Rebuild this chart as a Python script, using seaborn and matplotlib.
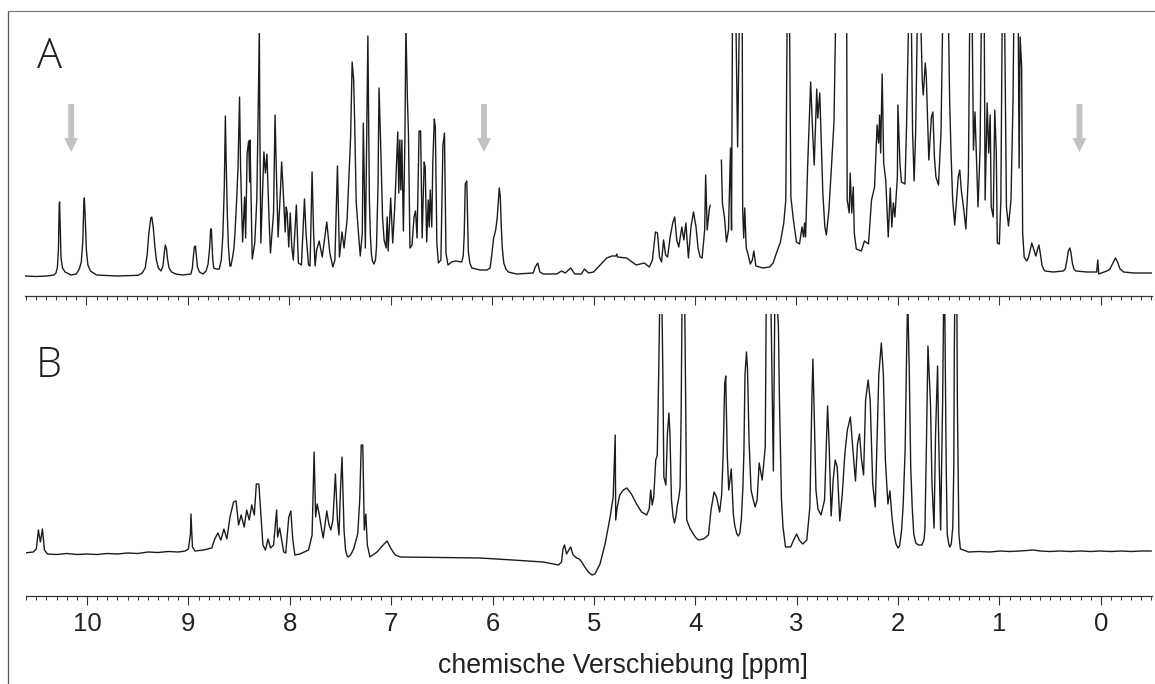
import matplotlib
matplotlib.use("Agg")
import matplotlib.pyplot as plt
from matplotlib.lines import Line2D
from matplotlib.ticker import MultipleLocator, NullFormatter
import seaborn as sns

sns.set_theme(style="white")
plt.rcParams["font.family"] = ["Liberation Sans", "DejaVu Sans"]

# Spektrum A, Teil vor der Luecke (ppm / Intensitaet)
ppm_a1 = [
    10.61, 10.5, 10.39, 10.32, 10.30, 10.285, 10.275, 10.268, 10.264, 10.258, 10.25, 10.235, 10.21, 10.15,
    10.10, 10.07, 10.05, 10.035, 10.025, 10.02, 10.012, 10.0, 9.985, 9.96, 9.90,
    9.7, 9.49, 9.45, 9.42, 9.40, 9.385, 9.365, 9.355, 9.34, 9.325, 9.31, 9.29, 9.265,
    9.245, 9.235, 9.222, 9.21, 9.20, 9.185, 9.16, 9.12, 9.05, 8.97,
    8.955, 8.945, 8.935, 8.925, 8.915, 8.905, 8.885, 8.85, 8.82, 8.80,
    8.785, 8.775, 8.768, 8.755, 8.745, 8.72, 8.69, 8.67, 8.655, 8.64,
    8.63, 8.622, 8.615, 8.61, 8.60, 8.585, 8.575, 8.56, 8.545, 8.535,
    8.52, 8.505, 8.49, 8.48, 8.46, 8.44, 8.43, 8.415,
    8.40, 8.39, 8.387, 8.365, 8.34, 8.32, 8.305, 8.295, 8.29, 8.28,
    8.25, 8.235, 8.22, 8.20, 8.185, 8.155, 8.14, 8.125, 8.11, 8.085,
    8.075, 8.06, 8.04, 8.03, 8.02, 8.005, 7.99, 7.975, 7.96, 7.93,
    7.91, 7.88, 7.85, 7.835, 7.81, 7.795, 7.775, 7.76, 7.745, 7.73,
    7.705, 7.675, 7.63, 7.60, 7.57, 7.55, 7.525, 7.505, 7.48, 7.46,
    7.43, 7.395, 7.38, 7.365, 7.355, 7.34, 7.32, 7.30, 7.28, 7.27,
    7.25, 7.24, 7.225, 7.21, 7.20, 7.19, 7.18, 7.165, 7.15, 7.14, 7.125, 7.115, 7.10, 7.08,
    7.065, 7.045, 7.035, 7.025, 7.0, 6.98, 6.96, 6.93, 6.92, 6.91,
    6.90, 6.89, 6.875, 6.86, 6.85, 6.835, 6.825, 6.81, 6.79, 6.77,
    6.755, 6.74, 6.72, 6.705, 6.69, 6.67, 6.66, 6.645, 6.63, 6.62,
    6.61, 6.595, 6.585, 6.57, 6.56, 6.545, 6.53, 6.505, 6.485, 6.47,
    6.455, 6.435, 6.40, 6.36, 6.30, 6.285, 6.275, 6.265, 6.25, 6.243, 6.235, 6.22, 6.20,
    6.12, 6.05, 6.02, 6.005, 5.985, 5.965, 5.95, 5.93, 5.92, 5.91, 5.90, 5.885, 5.865, 5.84, 5.76, 5.595,
    5.575, 5.55, 5.53, 5.495, 5.365, 5.315, 5.28, 5.225, 5.185, 5.12,
    5.09, 5.05, 5.0, 4.935, 4.87, 4.82, 4.78, 4.77, 4.765, 4.675,
    4.58, 4.50, 4.45, 4.42, 4.39, 4.37, 4.35, 4.33, 4.31, 4.29,
    4.27, 4.245, 4.22, 4.20, 4.18, 4.16, 4.13, 4.11, 4.09, 4.065,
    4.04, 4.015, 3.99, 3.97, 3.95, 3.93, 3.905, 3.895, 3.88, 3.86,
    3.85,
]
int_a1 = [
    20, 19.5, 20, 21, 23, 29, 48, 90, 94, 70, 38, 28, 24, 21,
    22, 27, 34, 55, 92, 98, 80, 46, 31, 25, 21,
    20, 20.7, 23, 28, 42, 62, 78, 79, 68, 50, 36, 28, 25,
    30, 40, 51, 47, 37, 28, 24, 22, 21, 22,
    28, 40, 49, 50, 40, 29, 24, 22, 25, 32,
    48, 67, 67, 38, 28, 27, 27, 36, 60, 110,
    180, 135, 103, 80, 50, 30, 30, 38, 48, 63,
    93, 129, 199, 129, 54, 99, 58, 143,
    155, 114, 156, 37, 53, 96, 193, 270, 169, 53,
    144, 123, 142, 79, 43, 83, 181, 116, 59, 109,
    134, 106, 64, 89, 83, 49, 83, 49, 36, 91,
    33, 31, 97, 63, 31, 30, 124, 63, 30, 46,
    55, 39, 74, 43, 29, 36, 130, 39, 64, 48,
    76, 159, 234, 216, 173, 94, 66, 40, 63, 173,
    48, 129, 260, 96, 60, 42, 35, 32, 36, 49, 110, 208, 156, 78,
    56, 48, 79, 45, 98, 53, 89, 164, 103, 156,
    106, 156, 65, 156, 270, 196, 163, 48, 51, 79,
    85, 58, 165, 165, 58, 134, 129, 54, 96, 69,
    106, 69, 133, 177, 169, 53, 33, 36, 151, 163,
    43, 31, 34, 35, 34, 40, 62, 112, 115, 80, 45, 33, 28,
    26, 26, 28, 40, 58, 66, 78, 108, 100, 70, 48, 33, 27, 24, 22, 23,
    29, 33, 24, 22, 22, 25, 23, 28, 22, 22,
    27, 23, 24, 31, 38, 40, 40, 42, 39, 38,
    31, 33, 29, 36, 64, 63, 39, 34, 56, 41,
    39, 59, 73, 79, 56, 49, 69, 56, 73, 38,
    69, 84, 69, 48, 39, 38, 66, 121, 66, 86,
    91,
]

# Spektrum A, Teil nach der Luecke
ppm_a2 = [
    3.74, 3.73, 3.71, 3.69, 3.67, 3.65, 3.64, 3.63, 3.60, 3.58,
    3.56, 3.535, 3.53, 3.52, 3.51, 3.495, 3.48, 3.455, 3.435, 3.42,
    3.40, 3.33, 3.265, 3.23, 3.197, 3.18, 3.16, 3.125, 3.105, 3.09,
    3.07, 3.055, 3.03, 3.0, 2.97, 2.945, 2.93, 2.92, 2.91, 2.89,
    2.86, 2.84, 2.825, 2.80, 2.79, 2.77, 2.74, 2.72, 2.705, 2.68,
    2.655, 2.63, 2.61, 2.505, 2.50, 2.48, 2.47, 2.455, 2.44, 2.43,
    2.41, 2.36, 2.33, 2.29, 2.26, 2.23, 2.205, 2.19, 2.18, 2.17,
    2.155, 2.14, 2.12, 2.095, 2.075, 2.06, 2.045, 2.03, 2.005, 2.0,
    1.98, 1.965, 1.93, 1.915, 1.89, 1.87, 1.855, 1.84, 1.825, 1.805,
    1.78, 1.76, 1.75, 1.73, 1.72, 1.70, 1.695, 1.67, 1.655, 1.64,
    1.625, 1.60, 1.575, 1.555, 1.505, 1.49, 1.475, 1.46, 1.44, 1.42,
    1.405, 1.39, 1.375, 1.35, 1.33, 1.305, 1.29, 1.27, 1.255, 1.24,
    1.225, 1.21, 1.19, 1.175, 1.15, 1.14, 1.12, 1.105, 1.09, 1.08,
    1.06, 1.045, 1.03, 1.02, 1.0, 0.985, 0.97, 0.95, 0.93, 0.91,
    0.885, 0.865, 0.855, 0.815, 0.805, 0.795, 0.78, 0.77, 0.755, 0.73,
    0.715, 0.70, 0.68, 0.665, 0.64, 0.625, 0.61, 0.595, 0.58, 0.565, 0.55, 0.47, 0.37, 0.35, 0.335, 0.32, 0.305, 0.295,
    0.28, 0.265, 0.245, 0.14, 0.04, 0.03, 0.02, -0.06, -0.09, -0.12, -0.145, -0.165, -0.19,
    -0.225, -0.325, -0.505,
]
int_a2 = [
    136, 93, 79, 54, 66, 148, 66, 300, 300, 149,
    300, 300, 86, 58, 88, 48, 43, 32, 36, 45,
    30, 28, 29, 33, 43, 48, 53, 73, 96, 300,
    300, 99, 76, 54, 52, 69, 59, 73, 59, 129,
    214, 163, 131, 207, 178, 203, 103, 69, 61, 86,
    129, 174, 300, 300, 96, 83, 123, 83, 109, 63,
    47, 45, 55, 52, 96, 109, 171, 153, 181, 143,
    222, 133, 116, 59, 108, 69, 93, 79, 119, 191,
    133, 114, 112, 169, 300, 300, 163, 115, 163, 300,
    300, 216, 201, 233, 219, 153, 136, 179, 184, 139,
    119, 111, 163, 300, 300, 196, 139, 96, 71, 99,
    119, 126, 106, 86, 67, 121, 300, 300, 146, 184,
    136, 89, 146, 300, 300, 96, 193, 143, 181, 89,
    79, 186, 143, 53, 52, 96, 300, 300, 89, 70,
    96, 196, 300, 300, 128, 259, 229, 63, 39, 35,
    38, 44, 53, 48, 40, 46, 51, 42, 31, 27, 25, 24, 25, 27, 35, 45, 48, 44,
    33, 27, 25, 24, 24, 36, 22, 25, 27, 33, 38, 34, 27,
    24, 23, 23,
]

# Spektrum B
ppm_b = [
    10.62, 10.53, 10.50, 10.48, 10.46, 10.44, 10.42, 10.39, 10.3, 10.2,
    10.1, 10.0, 9.9, 9.8, 9.7, 9.6, 9.5, 9.4, 9.3, 9.2,
    9.1, 9.03, 9.0, 8.98, 8.975, 8.96, 8.935, 8.85, 8.77, 8.74, 8.71,
    8.68, 8.65, 8.62, 8.59, 8.555, 8.53, 8.505, 8.48, 8.45, 8.425,
    8.40, 8.375, 8.35, 8.33, 8.305, 8.285, 8.265, 8.24, 8.215, 8.19,
    8.16, 8.145, 8.13, 8.12, 8.10, 8.085, 8.06, 8.04, 8.01, 7.99,
    7.97, 7.95, 7.90, 7.815, 7.78, 7.76, 7.745, 7.73, 7.71, 7.685,
    7.67, 7.635, 7.615, 7.595, 7.575, 7.55, 7.53, 7.515, 7.50, 7.485,
    7.465, 7.45, 7.435, 7.425, 7.40, 7.37, 7.33, 7.31, 7.295, 7.28, 7.265, 7.25,
    7.235, 7.21, 7.14, 7.07, 7.04, 7.0, 6.96, 6.91, 6.125, 5.80,
    5.50, 5.35, 5.32, 5.305, 5.29, 5.27, 5.23, 5.205, 5.17, 5.145,
    5.12, 5.09, 5.055, 5.02, 4.99, 4.94, 4.89, 4.84, 4.81, 4.79,
    4.785, 4.77, 4.745, 4.71, 4.675, 4.63, 4.58, 4.53, 4.48, 4.455,
    4.44, 4.425, 4.41, 4.39, 4.375, 4.36, 4.35, 4.33, 4.32, 4.31,
    4.29, 4.275, 4.26, 4.25, 4.235, 4.22, 4.205, 4.19, 4.18, 4.16, 4.15, 4.14, 4.13,
    4.105, 4.095, 4.085, 4.05, 4.0, 3.97, 3.92, 3.87, 3.845, 3.815,
    3.79, 3.76, 3.74, 3.725, 3.71, 3.70, 3.685, 3.67, 3.645, 3.625, 3.61,
    3.59, 3.575, 3.56, 3.545, 3.53, 3.52, 3.51, 3.495, 3.485, 3.47, 3.45, 3.43,
    3.41, 3.39, 3.37, 3.34, 3.31, 3.30, 3.255, 3.23, 3.215, 3.195,
    3.18, 3.17, 3.15, 3.135, 3.11, 3.06, 3.03, 3.0, 2.975, 2.94,
    2.90, 2.87, 2.85, 2.84, 2.83, 2.81, 2.79, 2.76, 2.725, 2.695,
    2.68, 2.66, 2.64, 2.62, 2.60, 2.575, 2.55, 2.525, 2.50, 2.47,
    2.45, 2.42, 2.40, 2.38, 2.36, 2.34, 2.32, 2.295, 2.275, 2.25,
    2.225, 2.19, 2.165, 2.145, 2.125, 2.10, 2.08, 2.06, 2.04, 2.02, 2.0, 1.985,
    1.965, 1.95, 1.93, 1.915, 1.905, 1.89, 1.875, 1.86, 1.845, 1.825, 1.80, 1.765, 1.745, 1.735,
    1.72, 1.705, 1.69, 1.68, 1.665, 1.645, 1.63, 1.61, 1.60, 1.58,
    1.56, 1.55, 1.54, 1.525, 1.515, 1.50, 1.49, 1.475, 1.46, 1.45, 1.445, 1.44, 1.42,
    1.415, 1.40, 1.385, 1.355, 1.305, 1.2, 1.1, 0.99, 0.9, 0.8,
    0.665, 0.60, 0.5, 0.4, 0.3, 0.2, 0.1, 0.01, -0.1, -0.2, -0.3, -0.4, -0.50,
]
int_b = [
    43, 44, 47, 66, 54, 67, 46, 42, 41.5, 42.5,
    41.5, 42, 41.5, 42.5, 42, 43, 42.5, 44, 43.5, 44.5,
    44, 45, 47, 62, 82, 49, 45, 46, 48, 57, 63,
    56, 67, 57, 79, 94, 95, 71, 81, 69, 86,
    76, 91, 81, 112, 112, 82, 51, 46, 57, 48,
    51, 69, 86, 59, 68, 59, 44, 43, 79, 85,
    56, 41, 42, 46, 61, 144, 79, 92, 82, 66,
    58, 85, 72, 66, 76, 122, 76, 61, 106, 139,
    66, 46, 40, 39, 41, 47, 62, 96, 151, 151, 66, 82,
    51, 39, 44, 52, 55, 47, 41, 39, 38, 36,
    34, 31, 34, 47, 51, 42, 49, 41, 38, 37,
    34, 29, 24, 21, 22, 32, 52, 79, 99, 161,
    76, 89, 101, 106, 108, 102, 92, 84, 81, 87,
    106, 91, 99, 136, 141, 229, 300, 300, 221, 119,
    111, 162, 183, 162, 96, 80, 73, 80, 89, 100, 109, 179, 300,
    300, 196, 76, 67, 59, 56, 57, 61, 86, 104,
    99, 84, 101, 142, 212, 220, 142, 106, 127, 82, 70,
    62, 60, 63, 78, 110, 146, 221, 244, 227, 156, 106, 97,
    89, 96, 133, 116, 149, 300, 300, 125, 300, 300,
    269, 196, 96, 69, 49, 49, 56, 62, 56, 52,
    56, 89, 196, 237, 196, 106, 87, 81, 96, 190,
    152, 80, 116, 136, 129, 75, 102, 142, 166, 179,
    152, 115, 152, 162, 136, 121, 196, 216, 196, 112,
    89, 221, 253, 222, 136, 92, 105, 79, 62, 52, 48, 50,
    66, 90, 146, 246, 300, 229, 129, 88, 62, 53, 51, 51, 56, 66,
    152, 250, 214, 192, 112, 68, 162, 230, 162, 66,
    196, 300, 300, 129, 62, 52, 49, 52, 69, 130, 246, 300, 300,
    196, 62, 47, 46, 44, 44.5, 44, 45, 44.5, 45,
    46, 45, 44.5, 45, 44.5, 45, 44.5, 45, 44.5, 45, 44.5, 45, 45,
]

arrow_ppm = [10.15, 6.08, 0.21]
major_ticks = 1
minor_ticks = 0.1
linie = "#1c1c1c"

# Figur in Pixelgroesse des Originals
W, H = 1155, 684
fig = plt.figure(figsize=(W / 100, H / 100), dpi=100)
ax_a = fig.add_axes([25 / W, 1 - 296 / H, 1127 / W, 263 / H])
ax_b = fig.add_axes([25.7 / W, 1 - 596 / H, 1126.3 / W, 282 / H])

sns.lineplot(x=ppm_a1, y=int_a1, sort=False, estimator=None, color=linie, linewidth=1.0, ax=ax_a)
sns.lineplot(x=ppm_a2, y=int_a2, sort=False, estimator=None, color=linie, linewidth=1.0, ax=ax_a)
sns.lineplot(x=ppm_b, y=int_b, sort=False, estimator=None, color=linie, linewidth=1.0, ax=ax_b)

for ax, top in [(ax_a, 263), (ax_b, 282)]:
    ax.set_xlim(10.605, -0.505)
    ax.set_ylim(0, top)
    ax.patch.set_alpha(0)
    sns.despine(ax=ax, left=True)
    ax.spines["bottom"].set_linewidth(0.9)
    ax.spines["bottom"].set_color("#333333")
    ax.xaxis.set_major_locator(MultipleLocator(major_ticks))
    ax.xaxis.set_minor_locator(MultipleLocator(minor_ticks))
    ax.tick_params(axis="x", which="major", direction="out", bottom=True, length=6.8, width=0.8, color="#333333")
    ax.tick_params(axis="x", which="minor", direction="out", bottom=True, length=2.6, width=0.7, color="#333333")
    ax.set_yticks([])
    ax.set_xlabel("")
    ax.set_ylabel("")

ax_a.xaxis.set_major_formatter(NullFormatter())
ax_b.tick_params(axis="x", which="major", labelsize=18.5, labelcolor="#222222", pad=5)
ax_b.set_xlabel("chemische Verschiebung [ppm]", fontsize=19.2, color="#222222", va="center")
ax_b.xaxis.set_label_coords(0.530, -0.248)

# graue Pfeile in Spektrum A
for p in arrow_ppm:
    ax_a.annotate("", xy=(p, 144), xytext=(p, 192),
                  arrowprops=dict(width=4.3, headwidth=10, headlength=10, shrink=0,
                                  facecolor="#c2c2c2", edgecolor="none"))

fig.text(37 / W, 1 - 68 / H, "A", fontsize=30, family="Open Sans", weight="light", color="#222222")
fig.text(36 / W, 1 - 377 / H, "B", fontsize=30, family="Open Sans", weight="light", color="#222222")

# Rahmen links und oben
fig.add_artist(Line2D([7.5 / W, 7.5 / W], [0, 1 - 10.5 / H], transform=fig.transFigure, color="#555555", linewidth=0.9))
fig.add_artist(Line2D([7.5 / W, 1], [1 - 10.5 / H, 1 - 10.5 / H], transform=fig.transFigure, color="#808080", linewidth=0.9))

fig.savefig("out.png", dpi=100)
